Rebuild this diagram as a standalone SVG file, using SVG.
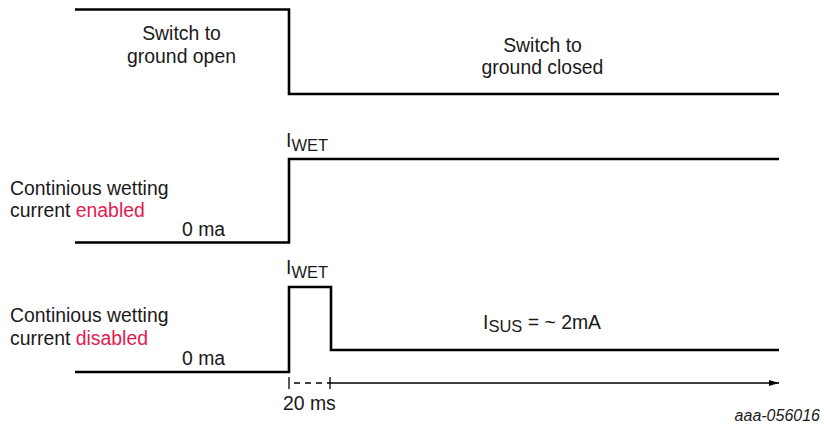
<svg xmlns="http://www.w3.org/2000/svg" width="824" height="426" viewBox="0 0 824 426">
  <defs>
    <style>
      .t { font-family: "Liberation Sans", Arial, sans-serif; font-size: 19.4px; fill: #1a1a1a; }
      .sub { font-size: 16.5px; }
      .red { fill: #e31b4f; }
      .wave { fill: none; stroke: #000; stroke-width: 2.6; stroke-linejoin: miter; }
      .axis { fill: none; stroke: #000; stroke-width: 1.3; }
      .id { font-family: "Liberation Sans", Arial, sans-serif; font-size: 16px; font-style: italic; fill: #1a1a1a; }
    </style>
    <marker id="arr" viewBox="0 0 10 6" refX="10" refY="3" markerWidth="10" markerHeight="6" markerUnits="userSpaceOnUse" orient="auto">
      <path d="M0,0 L10,3 L0,6 Z" fill="#000"/>
    </marker>
  </defs>

  <g id="switch">
    <polyline class="wave" points="75,9.5 289,9.5 289,94 779,94"/>
    <text class="t" x="181.5" y="40" text-anchor="middle">Switch to</text>
    <text class="t" x="181.5" y="63" text-anchor="middle">ground open</text>
    <text class="t" x="542.5" y="51.5" text-anchor="middle">Switch to</text>
    <text class="t" x="542.5" y="74" text-anchor="middle">ground closed</text>
  </g>

  <g id="enabled">
    <polyline class="wave" points="75,242.5 289,242.5 289,159 779,159"/>
    <text class="t" x="286" y="147">I<tspan class="sub" dy="4">WET</tspan></text>
    <text class="t" x="10" y="195">Continious wetting</text>
    <text class="t" x="10" y="217">current <tspan class="red">enabled</tspan></text>
    <text class="t" x="182" y="236">0 ma</text>
  </g>

  <g id="disabled">
    <polyline class="wave" points="75,372 289,372 289,287 331,287 331,350 779,350"/>
    <text class="t" x="286" y="274">I<tspan class="sub" dy="4">WET</tspan></text>
    <text class="t" x="10" y="322">Continious wetting</text>
    <text class="t" x="10" y="344.5">current <tspan class="red">disabled</tspan></text>
    <text class="t" x="182" y="364.5">0 ma</text>
    <text class="t" x="483" y="329">I<tspan class="sub" dy="3">SUS</tspan><tspan dy="-3"> = ~ 2mA</tspan></text>
  </g>

  <g id="connectors">
    <line class="axis" x1="289" y1="377" x2="289" y2="389"/>
    <line class="axis" x1="330" y1="377" x2="330" y2="389"/>
    <line class="axis" x1="290" y1="383" x2="330" y2="383" stroke-dasharray="6,5" stroke-dashoffset="-4"/>
    <line class="axis" x1="330" y1="383" x2="779" y2="383" marker-end="url(#arr)"/>
    <text class="t" x="283" y="409.5">20 ms</text>
  </g>

  <text class="id" x="820" y="421" text-anchor="end">aaa-056016</text>
</svg>
